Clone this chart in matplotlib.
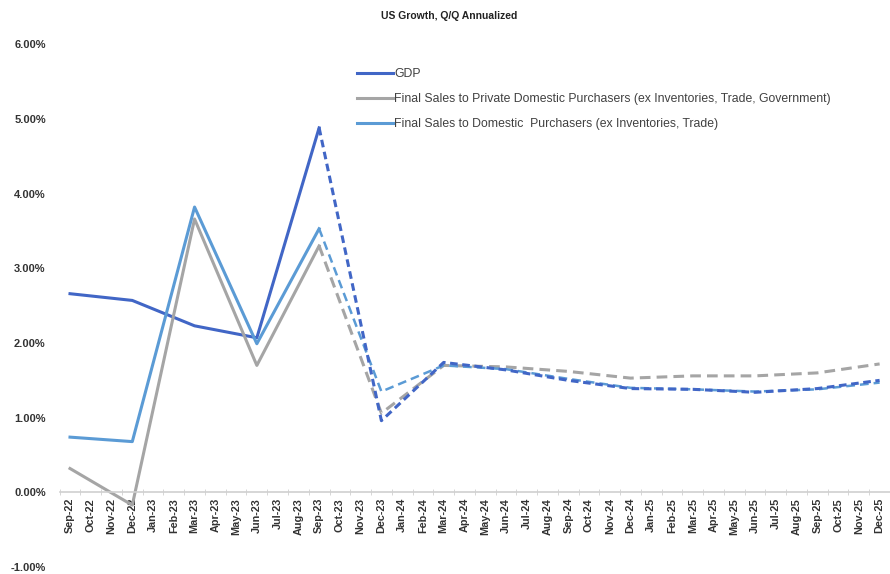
import matplotlib
matplotlib.use("Agg")
import matplotlib.pyplot as plt
from matplotlib.ticker import FuncFormatter, MultipleLocator
import numpy as np

months = ["Sep-22", "Oct-22", "Nov-22", "Dec-22", "Jan-23", "Feb-23", "Mar-23", "Apr-23",
          "May-23", "Jun-23", "Jul-23", "Aug-23", "Sep-23", "Oct-23", "Nov-23", "Dec-23",
          "Jan-24", "Feb-24", "Mar-24", "Apr-24", "May-24", "Jun-24", "Jul-24", "Aug-24",
          "Sep-24", "Oct-24", "Nov-24", "Dec-24", "Jan-25", "Feb-25", "Mar-25", "Apr-25",
          "May-25", "Jun-25", "Jul-25", "Aug-25", "Sep-25", "Oct-25", "Nov-25", "Dec-25"]

# actuals (quarterly)
actual_q = ["Sep-22", "Dec-22", "Mar-23", "Jun-23", "Sep-23"]
gdp_act = [2.66, 2.57, 2.23, 2.07, 4.88]
priv_act = [0.32, -0.17, 3.66, 1.70, 3.30]
dom_act = [0.74, 0.68, 3.82, 1.99, 3.53]

# forecast (quarterly, starts at last actual)
fcst_q = ["Sep-23", "Dec-23", "Mar-24", "Jun-24", "Sep-24", "Dec-24",
          "Mar-25", "Jun-25", "Sep-25", "Dec-25"]
gdp_fc = [4.88, 0.96, 1.74, 1.64, 1.50, 1.39, 1.38, 1.34, 1.39, 1.50]
priv_fc = [3.30, 1.06, 1.70, 1.68, 1.62, 1.53, 1.56, 1.56, 1.60, 1.72]
dom_fc = [3.53, 1.35, 1.70, 1.65, 1.52, 1.40, 1.38, 1.35, 1.38, 1.47]

c_gdp = "#4166c6"
c_priv = "#a5a5a5"
c_dom = "#5b9bd5"

xa = [months.index(m) for m in actual_q]
xf = [months.index(m) for m in fcst_q]

fig = plt.figure(figsize=(8.9, 5.74), dpi=100)
ax = fig.add_axes([0.067, 0.012, 0.933, 0.911])

ax.plot(xa, gdp_act, color=c_gdp, lw=2.2, label="GDP")
ax.plot(xa, priv_act, color=c_priv, lw=2.2,
        label="Final Sales to Private Domestic Purchasers (ex Inventories, Trade, Government)")
ax.plot(xa, dom_act, color=c_dom, lw=2.2,
        label="Final Sales to Domestic  Purchasers (ex Inventories, Trade)")
ax.plot(xf, priv_fc, color=c_priv, lw=2.2, ls=(0, (3.5, 2)))
ax.plot(xf, dom_fc, color=c_dom, lw=1.8, ls=(0, (3.5, 2)))
ax.plot(xf, gdp_fc, color=c_gdp, lw=2.2, ls=(0, (2.5, 1.5)))

ax.set_xlim(-0.5, len(months) - 0.5)
ax.set_ylim(-1, 6)
ax.yaxis.set_major_locator(MultipleLocator(1))
ax.yaxis.set_major_formatter(FuncFormatter(lambda v, p: "%.2f%%" % v))

for s in ["top", "right", "left"]:
    ax.spines[s].set_visible(False)
ax.spines["bottom"].set_position(("data", 0))
ax.spines["bottom"].set_color("#d0d0d0")
ax.spines["bottom"].set_linewidth(1.2)

ax.set_xticks(range(len(months)))
ax.set_xticklabels(months, rotation=90, fontsize=7.8, fontweight="bold",
                   family="Liberation Sans", color="#333333")
ax.set_xticks(np.arange(-0.5, len(months), 1), minor=True)
ax.tick_params(axis="x", which="major", length=0, pad=4)
ax.tick_params(axis="x", which="minor", length=4, color="#d0d0d0", direction="inout")
ax.tick_params(axis="y", length=0, pad=10, labelsize=8)
for t in ax.get_yticklabels():
    t.set_fontweight("bold")
    t.set_family("Liberation Sans")
    t.set_color("#333333")

leg = ax.legend(loc="upper left", bbox_to_anchor=(0.345, 0.975), frameon=False,
                prop={"family": "Liberation Sans", "size": 8.8},
                handlelength=2.9, handletextpad=0.15, labelspacing=1.05)
for t in leg.get_texts():
    t.set_color("#404040")

fig.text(0.505, 0.972, "US Growth, Q/Q Annualized", ha="center", va="center",
         fontsize=7.5, fontweight="bold", family="Liberation Sans", color="#222222")

fig.savefig("out.png", dpi=100)
